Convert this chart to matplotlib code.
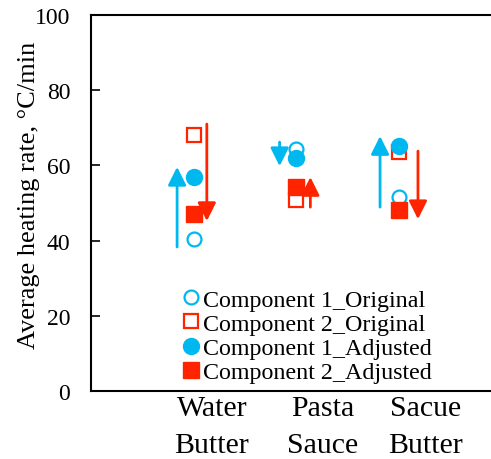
import matplotlib
matplotlib.use('Agg')
import matplotlib.pyplot as plt
from matplotlib.patches import FancyArrowPatch

plt.rcParams['font.family'] = ['Liberation Serif', 'DejaVu Serif']

BLUE = '#00B8F0'
RED = '#FF2400'

# Food systems and heating rates (degC/min)
categories = ['Water\nButter', 'Pasta\nSauce', 'Sacue\nButter']
comp1_original = [40.4, 64.4, 51.6]
comp2_original = [68.1, 50.8, 63.6]
comp1_adjusted = [56.9, 62.0, 65.2]
comp2_adjusted = [47.1, 54.3, 48.1]

# Arrows showing direction of change (start, end)
comp1_arrow_start = [38.3, 66.2, 48.9]
comp1_arrow_end = [59.6, 59.8, 67.8]
comp2_arrow_start = [71.0, 48.9, 63.8]
comp2_arrow_end = [45.2, 56.9, 45.7]

xpos = [1, 2, 3]


def draw_arrow(ax, x, y0, y1, color):
    arr = FancyArrowPatch((x, y0), (x, y1),
                          arrowstyle='-|>,head_length=1.1,head_width=0.55',
                          mutation_scale=10, color=color, lw=2,
                          shrinkA=0, shrinkB=0, zorder=2)
    ax.add_patch(arr)


def main():
    fig = plt.figure(figsize=(4.91, 4.60), dpi=100)
    ax = fig.add_axes([91 / 491, 68 / 460, 410 / 491, 376 / 460])

    ax.plot(xpos, comp1_original, 'o', ls='none', ms=10, mfc='white',
            mec=BLUE, mew=1.6, label='Component 1_Original', zorder=3)
    ax.plot(xpos, comp2_original, 's', ls='none', ms=10.5, mfc='white',
            mec=RED, mew=1.6, label='Component 2_Original', zorder=3)
    ax.plot(xpos, comp1_adjusted, 'o', ls='none', ms=11.5, color=BLUE,
            label='Component 1_Adjusted', zorder=4)
    ax.plot(xpos, comp2_adjusted, 's', ls='none', ms=11, color=RED,
            label='Component 2_Adjusted', zorder=4)

    blue_dx = [-0.16, -0.16, -0.18]
    red_dx = [0.13, 0.14, 0.19]
    for i, x in enumerate(xpos):
        draw_arrow(ax, x + blue_dx[i], comp1_arrow_start[i], comp1_arrow_end[i], BLUE)
        draw_arrow(ax, x + red_dx[i], comp2_arrow_start[i], comp2_arrow_end[i], RED)

    ax.set_xlim(0, 4)
    ax.set_ylim(0, 100)
    ax.set_yticks([0, 20, 40, 60, 80, 100])
    ax.tick_params(axis='y', direction='in', length=6.5, width=1.2,
                   labelsize=17, pad=15)
    ax.set_xticks([1.18, 2.26, 3.26])
    ax.set_xticklabels(categories, fontsize=21.5, linespacing=1.55)
    ax.tick_params(axis='x', length=0, pad=3)
    ax.set_ylabel('Average heating rate, \u00b0C/min', fontsize=19)
    ax.yaxis.set_label_coords(-0.125, 0.522)

    for side in ['left', 'bottom', 'top']:
        ax.spines[side].set_linewidth(1.5)
    ax.spines['right'].set_visible(False)

    ax.legend(loc='lower left', bbox_to_anchor=(0.2, -0.005), frameon=False,
              fontsize=17.3, handlelength=0.7, handletextpad=0.15,
              labelspacing=0.1, borderaxespad=0)

    fig.savefig('out.png', dpi=100)


if __name__ == "__main__":
    main()
